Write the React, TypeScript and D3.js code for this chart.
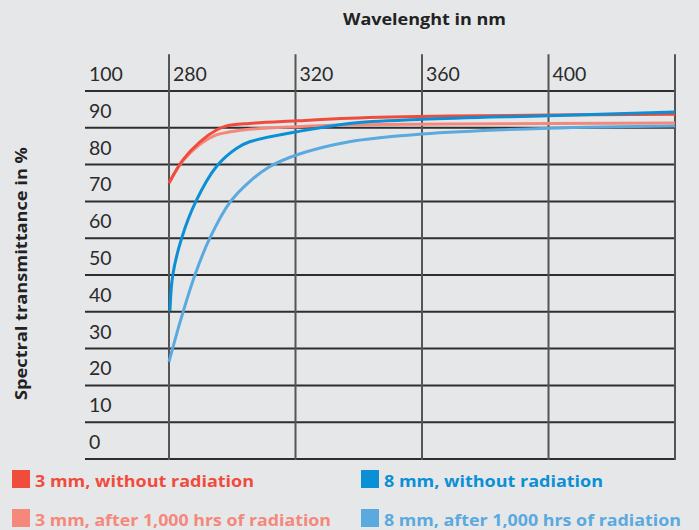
import React from 'react';
import * as d3 from 'd3';

interface Pt {
    nm: number;
    v: number;
}

// wavelength ticks (nm) and transmittance ticks (%)
const xTicks = [280, 320, 360, 400, 440];
const yTicks = [0, 10, 20, 30, 40, 50, 60, 70, 80, 90, 100];

// values
const red3mm: Pt[] = [
    { nm: 280, v: 75 }, { nm: 284.4, v: 81.3 }, { nm: 289.8, v: 86.2 }, { nm: 295, v: 89.4 },
    { nm: 298.2, v: 90.5 }, { nm: 305.5, v: 91.2 }, { nm: 320.3, v: 91.9 }, { nm: 337, v: 92.6 },
    { nm: 368.6, v: 93.2 }, { nm: 440, v: 93.7 }
];
const red3mmRad: Pt[] = [
    { nm: 280, v: 75 }, { nm: 284.4, v: 81 }, { nm: 289.8, v: 85.5 }, { nm: 295, v: 88.1 },
    { nm: 299.5, v: 88.9 }, { nm: 305.5, v: 89.6 }, { nm: 320.3, v: 90.3 }, { nm: 337, v: 90.8 },
    { nm: 368.6, v: 91 }, { nm: 440, v: 91.3 }
];
const blue8mm: Pt[] = [
    { nm: 280.3, v: 40.2 }, { nm: 281.2, v: 50 }, { nm: 284, v: 60 }, { nm: 288.5, v: 70 },
    { nm: 295, v: 79.5 }, { nm: 301.3, v: 84.4 }, { nm: 305.5, v: 86.2 }, { nm: 320.3, v: 88.9 },
    { nm: 337, v: 91.2 }, { nm: 360, v: 92.3 }, { nm: 400, v: 93.3 }, { nm: 440, v: 94.3 }
];
const blue8mmRad: Pt[] = [
    { nm: 280, v: 26.4 }, { nm: 283.7, v: 37.8 }, { nm: 288.2, v: 50 }, { nm: 292.9, v: 60 },
    { nm: 299.3, v: 69.8 }, { nm: 305.5, v: 75.4 }, { nm: 311.8, v: 79.4 }, { nm: 320.3, v: 82.6 },
    { nm: 337, v: 86.2 }, { nm: 360, v: 88.3 }, { nm: 400, v: 89.9 }, { nm: 440, v: 90.5 }
];

const series = [
    { name: '8 mm, after 1,000 hrs of radiation', data: blue8mmRad, color: '#5aa9df' },
    { name: '3 mm, after 1,000 hrs of radiation', data: red3mmRad, color: '#f4887b' },
    { name: '3 mm, without radiation', data: red3mm, color: '#f04c3c' },
    { name: '8 mm, without radiation', data: blue8mm, color: '#0b8fd5' }
];

const legendItems = [
    { name: '3 mm, without radiation', color: '#f04c3c', col: 0, row: 0, len: 219 },
    { name: '8 mm, without radiation', color: '#0b8fd5', col: 1, row: 0, len: 219 },
    { name: '3 mm, after 1,000 hrs of radiation', color: '#f4887b', col: 0, row: 1, len: 296 },
    { name: '8 mm, after 1,000 hrs of radiation', color: '#5aa9df', col: 1, row: 1, len: 297 }
];

const W = 699;
const H = 530;
const FONT = 'Lato, "Open Sans", sans-serif';
const BOLD = '"Open Sans", Lato, sans-serif';

const App: React.FC = () => {
    const x = d3.scaleLinear().domain([280, 440]).range([169, 675]);
    const y = d3.scaleLinear().domain([0, 100]).range([459, 91]);
    const gridLeft = 85;

    const line = d3.line<Pt>()
        .x(d => x(d.nm))
        .y(d => y(d.v))
        .curve(d3.curveCatmullRom.alpha(0.5));

    return (
        <svg width={W} height={H} style={{ position: 'absolute', left: 0, top: 0, background: '#e6e7e9' }}>
            <rect width={W} height={H} fill="#e6e7e9" />

            {/* titles */}
            <text x={343} y={25} fontFamily={BOLD} fontWeight={700} fontSize={16} fill="#222"
                textLength={163} lengthAdjust="spacingAndGlyphs">
                Wavelenght in nm
            </text>
            <text transform={`translate(27,400) rotate(-90)`} fontFamily={BOLD}
                fontWeight={700} fontSize={16} fill="#222" textLength={253} lengthAdjust="spacingAndGlyphs">
                Spectral transmittance in %
            </text>

            {/* horizontal grid */}
            {yTicks.map(t => (
                <line key={'h' + t} x1={gridLeft} x2={x(440)} y1={y(t)} y2={y(t)} stroke="#2e2e2e" strokeWidth={2} />
            ))}
            {/* vertical grid */}
            {xTicks.map(t => (
                <line key={'v' + t} x1={x(t)} x2={x(t)} y1={y(110)} y2={y(0) + 1} stroke="#555" strokeWidth={2} />
            ))}

            {/* tick labels */}
            {yTicks.map(t => (
                <text key={'yl' + t} x={89} y={y(t) - 10} fontFamily={FONT} fontSize={19.5} fill="#2b2b2b">
                    {t}
                </text>
            ))}
            {xTicks.slice(0, 4).map(t => (
                <text key={'xl' + t} x={x(t) + 4} y={y(100) - 10} fontFamily={FONT} fontSize={19.5} fill="#2b2b2b">
                    {t}
                </text>
            ))}

            {/* curves */}
            {series.map(s => (
                <path key={s.name} d={line(s.data) || ''} fill="none" stroke={s.color} strokeWidth={3} />
            ))}

            {/* legend */}
            {legendItems.map(l => {
                const lx = l.col === 0 ? 12 : 361;
                const ly = l.row === 0 ? 470 : 509;
                return (
                    <g key={l.name}>
                        <rect x={lx} y={ly} width={18} height={18} fill={l.color} />
                        <text x={lx + 23} y={ly + 17} fontFamily={BOLD} fontWeight={700} fontSize={16}
                            fill={l.color} textLength={l.len} lengthAdjust="spacingAndGlyphs">
                            {l.name}
                        </text>
                    </g>
                );
            })}
        </svg>
    );
};

export default App;
